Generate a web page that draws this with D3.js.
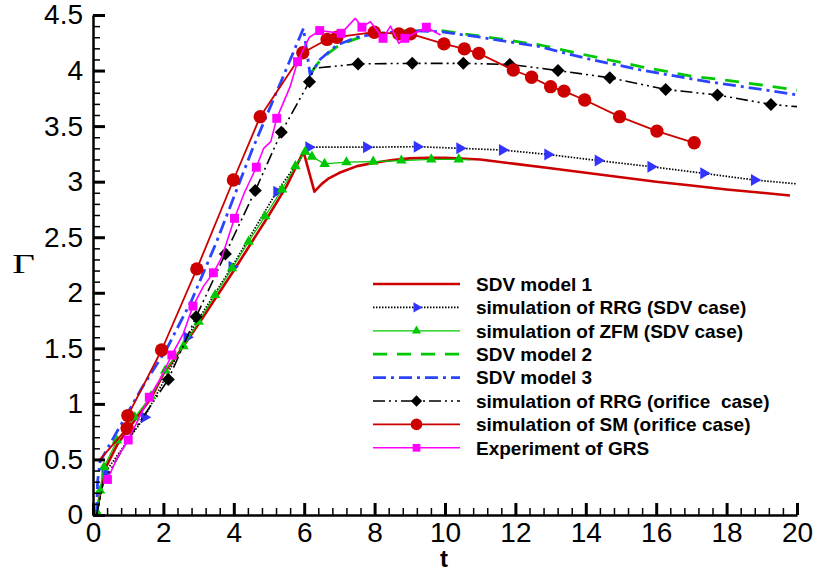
<!DOCTYPE html>
<html>
<head>
<meta charset="utf-8">
<script src="https://cdn.jsdelivr.net/npm/d3@7"></script>
<style>
  body { margin: 0; background: #fff; }
  svg { display: block; font-family: "Liberation Sans", Arial, sans-serif; }
  .tick text { font-size: 28px; fill: #000; }
  .legendText { font-size: 19px; font-weight: bold; white-space: pre; }
</style>
</head>
<body>
<div class="chart"></div>
<script>
var svgWidth = 816;
var svgHeight = 572;

// plot box in pixels
var x0 = 93, x1 = 797, yTop = 15, yBot = 515;

// Data: [t, Gamma]
var sdv1 = [[0.1,0],[0.2,0.2],[0.35,0.42],[0.7,0.64],[1.2,0.86],[1.65,1.05],[2,1.27],[2.5,1.49],[3,1.72],[3.5,1.96],[4,2.2],[4.5,2.45],[5,2.7],[5.5,2.96],[5.98,3.27],[6.29,2.91],[6.5,2.98],[6.7,3.03],[7,3.08],[7.5,3.14],[8,3.17],[8.5,3.195],[9,3.21],[9.5,3.215],[10,3.215],[11,3.2],[12,3.16],[13,3.12],[14,3.08],[15,3.04],[16,3.0],[17,2.965],[18,2.93],[19,2.9],[19.8,2.875]];

var rrgSdv = [[0.1,0],[0.34,0.38],[1.46,0.88],[2.67,1.6],[3.95,2.235],[5.22,2.91],[6.13,3.31],[7.77,3.31],[9.21,3.315],[10.42,3.3],[11.63,3.285],[12.92,3.245],[14.35,3.19],[15.85,3.135],[17.35,3.075],[18.79,3.015],[20,2.98]];
var rrgSdvMarks = rrgSdv.slice(1, -1);

var zfm = [[0.12,0.02],[0.2,0.22],[0.31,0.43],[0.68,0.67],[1.19,0.88],[1.65,1.07],[2.05,1.3],[2.57,1.52],[3.0,1.74],[3.47,1.98],[3.95,2.22],[4.42,2.46],[4.89,2.69],[5.37,2.93],[5.75,3.14],[6.03,3.27],[6.22,3.225],[6.58,3.16],[7.2,3.175],[7.96,3.18],[8.76,3.19],[9.61,3.2],[10.39,3.2],[10.73,3.195]];
var zfmMarks = zfm.slice(0, -1);

var sdv2 = [[6.2,3.98],[6.4,4.07],[6.7,4.16],[7,4.23],[7.5,4.29],[8,4.33],[9,4.36],[9.87,4.36],[11,4.31],[12.7,4.23],[14,4.14],[15.56,4.035],[17,3.95],[17.93,3.915],[19,3.87],[20,3.825]];

var sdv3 = [[0.1,0],[0.13,0.3],[0.2,0.48],[0.7,0.76],[1.4,1.15],[2.1,1.5],[2.8,1.93],[3.5,2.45],[4.5,3.27],[5.5,4.02],[5.98,4.38],[6.17,3.96],[6.45,4.1],[6.93,4.23],[7.5,4.3],[8,4.33],[9,4.36],[9.87,4.35],[11,4.3],[12.7,4.215],[14,4.11],[15.56,4.005],[17.46,3.9],[19,3.83],[20,3.78]];

var rrgOrif = [[0.1,0],[0.3,0.3],[1.1,0.73],[2.14,1.22],[2.93,1.785],[3.76,2.35],[4.61,2.92],[5.35,3.445],[6.15,3.9],[6.27,4.02],[7.53,4.06],[9.07,4.065],[10.52,4.065],[11.84,4.055],[13.21,4.0],[14.68,3.935],[16.27,3.83],[17.74,3.78],[19.26,3.695],[20,3.675]];
var rrgOrifMarks = [[2.14,1.22],[2.93,1.785],[3.76,2.35],[4.61,2.92],[5.35,3.445],[6.15,3.9],[7.53,4.06],[9.07,4.065],[10.52,4.065],[11.84,4.055],[13.21,4.0],[14.68,3.935],[16.27,3.83],[17.74,3.78],[19.26,3.695]];

var sm = [[0.2,0.5],[0.97,0.78],[0.99,0.895],[1.95,1.485],[2.95,2.215],[3.99,3.015],[4.75,3.585],[5.96,4.16],[6.65,4.28],[6.93,4.3],[7.99,4.345],[8.69,4.33],[9.02,4.33],[9.97,4.24],[10.55,4.195],[10.96,4.155],[11.94,4.005],[12.46,3.94],[13.0,3.855],[13.38,3.815],[13.97,3.735],[14.96,3.585],[16.02,3.455],[17.08,3.35]];
var smMarks = sm.slice(1);

var grs = [[0.41,0.32],[0.7,0.52],[1.0,0.675],[1.6,1.06],[1.9,1.22],[2.24,1.44],[2.57,1.635],[2.84,1.88],[3.14,2.06],[3.42,2.18],[3.66,2.32],[4.02,2.67],[4.3,2.9],[4.64,3.13],[4.85,3.3],[5.05,3.36],[5.22,3.57],[5.6,3.855],[5.81,4.08],[6.15,4.3],[6.44,4.36],[7.05,4.335],[7.45,4.47],[7.64,4.39],[7.88,4.44],[8.24,4.29],[8.45,4.4],[8.69,4.245],[8.86,4.29],[9.47,4.39],[9.87,4.32]];
var grsMarks = [[0.41,0.32],[1.0,0.675],[1.6,1.06],[2.24,1.44],[2.84,1.88],[3.42,2.18],[4.02,2.67],[4.64,3.13],[5.22,3.57],[5.81,4.08],[6.44,4.36],[7.05,4.335],[7.64,4.39],[8.24,4.29],[8.86,4.29],[9.47,4.39]];

var legendNames = ["SDV model 1", "simulation of RRG (SDV case)", "simulation of ZFM (SDV case)", "SDV model 2", "SDV model 3", "simulation of RRG (orifice  case)", "simulation of SM (orifice case)", "Experiment of GRS"];

var xTicks = [0,2,4,6,8,10,12,14,16,18,20];
var yTicks = [0,0.5,1,1.5,2,2.5,3,3.5,4,4.5];

// series styling, built from the arrays above
var series = [
  {line: sdv1, marks: [], color: "#cc0000", width: 2.6, dash: null, sym: null},
  {line: rrgSdv, marks: rrgSdvMarks, color: "#000", width: 1.7, dash: "1.5,1.5", sym: "tri-r", symColor: "#3333ff", symSize: 62},
  {line: zfm, marks: zfmMarks, color: "#00c800", width: 1.2, dash: null, sym: "tri", symColor: "#00c800", symSize: 48},
  {line: sdv2, marks: [], color: "#00c800", width: 2.8, dash: "14,10", sym: null},
  {line: sdv3, marks: [], color: "#2a44ff", width: 2.8, dash: "13,5,3,5", sym: null},
  {line: rrgOrif, marks: rrgOrifMarks, color: "#000", width: 1.6, dash: "12,4,2,4,2,4", sym: "diamond", symColor: "#000", symSize: 85},
  {line: sm, marks: smMarks, color: "#cc0000", width: 1.8, dash: null, sym: "circle", symColor: "#cc0000", symSize: 140},
  {line: grs, marks: grsMarks, color: "#ff00ff", width: 1.6, dash: null, sym: "square", symColor: "#ff00ff", symSize: 80}
];

var svg = d3.select(".chart")
  .append("svg")
  .attr("width", svgWidth)
  .attr("height", svgHeight);

var xScale = d3.scaleLinear().domain([0, 20]).range([x0, x1]);
var yScale = d3.scaleLinear().domain([0, 4.5]).range([yBot, yTop]);

function symbolPath(kind, size) {
  if (kind === "circle") return d3.symbol(d3.symbolCircle, size)();
  if (kind === "square") return d3.symbol(d3.symbolSquare, size)();
  if (kind === "diamond") return d3.symbol(d3.symbolSquare, size)();
  return d3.symbol(d3.symbolTriangle, size)();
}
function symbolRot(kind) {
  if (kind === "diamond") return 45;
  if (kind === "tri-r") return 90;
  return 0;
}

var lineGen = d3.line().x(d => xScale(d[0])).y(d => yScale(d[1]));

// Draw series
// ==============================
var plot = svg.append("g");
series.forEach(function(s) {
  plot.append("path")
    .datum(s.line)
    .attr("d", lineGen)
    .attr("fill", "none")
    .attr("stroke", s.color)
    .attr("stroke-width", s.width)
    .attr("stroke-dasharray", s.dash)
    .attr("stroke-linejoin", "round");
  if (s.sym) {
    plot.append("g").selectAll("path")
      .data(s.marks)
      .enter()
      .append("path")
      .attr("d", symbolPath(s.sym, s.symSize))
      .attr("transform", d => `translate(${xScale(d[0])},${yScale(d[1])}) rotate(${symbolRot(s.sym)})`)
      .attr("fill", s.symColor);
  }
});

// Axes
// ==============================
var minorX = d3.range(0, 20.001, 0.4);
var minorY = d3.range(0, 4.5001, 0.1);

svg.append("g")
  .attr("transform", `translate(0, ${yBot})`)
  .call(d3.axisBottom(xScale).tickValues(minorX).tickSize(-7).tickSizeOuter(0).tickFormat(""))
  .call(g => g.select(".domain").remove())
  .selectAll("line").attr("stroke-width", 1.5);

svg.append("g")
  .attr("transform", `translate(${x0}, 0)`)
  .call(d3.axisLeft(yScale).tickValues(minorY).tickSize(-7).tickSizeOuter(0).tickFormat(""))
  .call(g => g.select(".domain").remove())
  .selectAll("line").attr("stroke-width", 1.5);

var xAxis = svg.append("g")
  .attr("transform", `translate(0, ${yBot})`)
  .call(d3.axisBottom(xScale).tickValues(xTicks).tickSize(-12).tickSizeOuter(0).tickPadding(7).tickFormat(d3.format("d")));
xAxis.selectAll("line").attr("stroke-width", 3);
xAxis.select(".domain").attr("stroke-width", 2.5);
xAxis.selectAll("text").attr("font-family", "Liberation Sans, Arial, sans-serif").attr("font-size", 28);

var yAxis = svg.append("g")
  .attr("transform", `translate(${x0}, 0)`)
  .call(d3.axisLeft(yScale).tickValues(yTicks).tickSize(-12).tickSizeOuter(0).tickPadding(10).tickFormat(d => d));
yAxis.selectAll("line").attr("stroke-width", 3);
yAxis.select(".domain").attr("stroke-width", 2.5);
yAxis.selectAll("text").attr("font-family", "Liberation Sans, Arial, sans-serif").attr("font-size", 28);

// Axis titles
// ==============================
svg.append("text")
  .attr("x", 444)
  .attr("y", 567)
  .attr("text-anchor", "middle")
  .attr("font-size", 24)
  .attr("font-weight", "bold")
  .text("t");

svg.append("text")
  .attr("transform", "translate(23.5, 273) scale(1.4, 1)")
  .attr("text-anchor", "middle")
  .attr("font-family", "Liberation Serif, Times New Roman, serif")
  .attr("font-size", 28)
  .text("Γ");

// Legend
// ==============================
var legend = svg.append("g");
series.forEach(function(s, i) {
  var ly = 284 + i * 23.4;
  legend.append("line")
    .attr("x1", 373).attr("x2", 460)
    .attr("y1", ly).attr("y2", ly)
    .attr("stroke", s.color)
    .attr("stroke-width", s.width)
    .attr("stroke-dasharray", s.dash);
  if (s.sym) {
    legend.append("path")
      .attr("d", symbolPath(s.sym, s.symSize * 0.75))
      .attr("transform", `translate(416.5,${ly}) rotate(${symbolRot(s.sym)})`)
      .attr("fill", s.symColor);
  }
  legend.append("text")
    .attr("class", "legendText")
    .attr("x", 476)
    .attr("y", ly)
    .attr("dy", "0.36em")
    .text(legendNames[i]);
});
</script>
</body>
</html>
